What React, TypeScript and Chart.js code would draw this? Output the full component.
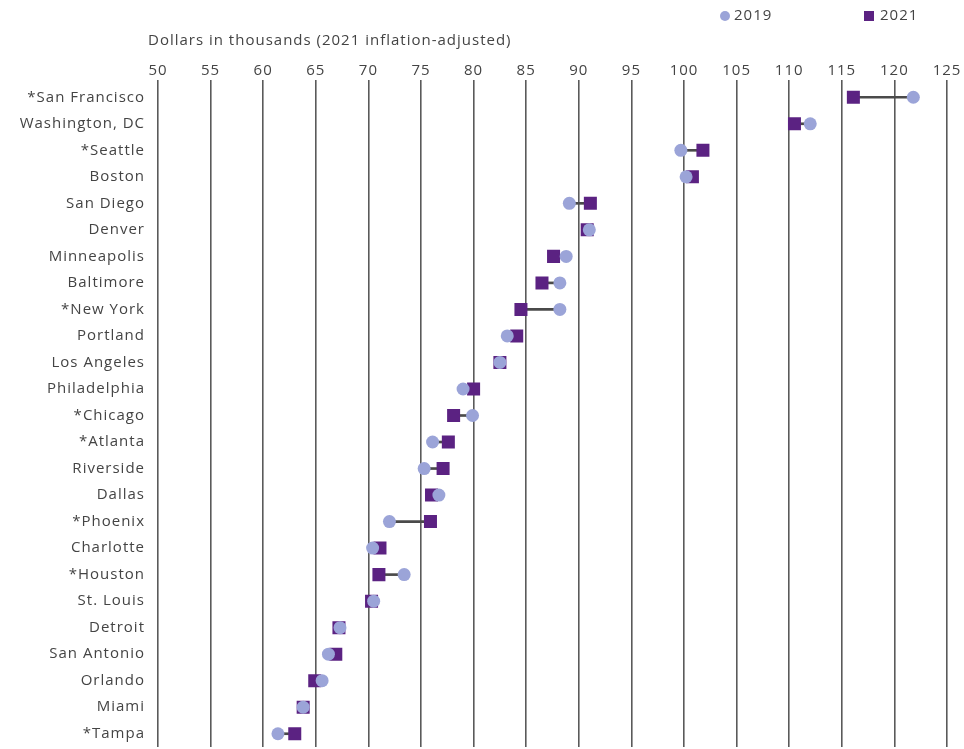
import React, { useEffect, useRef } from "react";
import { Chart, registerables } from "chart.js";

Chart.register(...registerables);

const cities = [
  "*San Francisco", "Washington, DC", "*Seattle", "Boston", "San Diego", "Denver",
  "Minneapolis", "Baltimore", "*New York", "Portland", "Los Angeles", "Philadelphia",
  "*Chicago", "*Atlanta", "Riverside", "Dallas", "*Phoenix", "Charlotte", "*Houston",
  "St. Louis", "Detroit", "San Antonio", "Orlando", "Miami", "*Tampa",
];

const values2019 = [
  121.8, 112.0, 99.7, 100.2, 89.1, 91.0, 88.8, 88.2, 88.2, 83.2, 82.5, 79.0,
  79.9, 76.1, 75.3, 76.7, 72.0, 70.4, 73.4, 70.5, 67.3, 66.2, 65.6, 63.8, 61.4,
];

const values2021 = [
  116.1, 110.5, 101.8, 100.8, 91.1, 90.8, 87.6, 86.5, 84.5, 84.1, 82.5, 80.0,
  78.1, 77.6, 77.1, 76.0, 75.9, 71.1, 71.0, 70.3, 67.2, 66.9, 64.9, 63.8, 63.0,
];

const xTicksMin = 50;
const xTicksMax = 125;
const xTickStep = 5;

const axisTitle = "Dollars in thousands (2021 inflation-adjusted)";
const seriesNames = ["2019", "2021"];

const COLOR_2019 = "#9ba4d8";
const COLOR_2021 = "#5b2282";
const TEXT = "#444444";
const FONT = "'Open Sans', 'Noto Sans', sans-serif";
const FONT_SIZE = 15;
const SPACING = "1px";

const spacingPlugin = {
  id: "letterSpacing",
  beforeUpdate(chart: any) {
    chart.ctx.letterSpacing = SPACING;
  },
  beforeDraw(chart: any) {
    chart.ctx.letterSpacing = SPACING;
  },
};

const overlayPlugin = {
  id: "overlayText",
  afterDraw(chart: any) {
    const ctx = chart.ctx;
    const area = chart.chartArea;
    ctx.save();
    ctx.letterSpacing = SPACING;
    ctx.fillStyle = TEXT;
    ctx.font = `${FONT_SIZE}px ${FONT}`;
    ctx.textBaseline = "middle";
    ctx.textAlign = "left";
    // axis title
    ctx.fillText(axisTitle, area.left - 10, 41);
    // legend
    const ly = 16;
    ctx.fillStyle = COLOR_2019;
    ctx.beginPath();
    ctx.arc(725, ly, 5, 0, Math.PI * 2);
    ctx.fill();
    ctx.fillStyle = TEXT;
    ctx.fillText(seriesNames[0], 734, ly);
    ctx.fillStyle = COLOR_2021;
    ctx.fillRect(864, ly - 5, 10, 10);
    ctx.fillStyle = TEXT;
    ctx.fillText(seriesNames[1], 880, ly);
    ctx.restore();
  },
};

export default function App() {
  const ref = useRef<HTMLCanvasElement>(null);

  useEffect(() => {
    document.body.style.margin = "0";
    const canvas = ref.current!;
    const chart = new Chart(canvas, {
      type: "bar",
      data: {
        labels: cities,
        datasets: [
          {
            type: "line",
            label: seriesNames[0],
            data: values2019,
            showLine: false,
            pointStyle: "circle",
            pointRadius: 6.5,
            pointBackgroundColor: COLOR_2019,
            pointBorderWidth: 0,
            order: 0,
          } as any,
          {
            type: "line",
            label: seriesNames[1],
            data: values2021,
            showLine: false,
            pointStyle: "rect",
            pointRadius: 9.2,
            pointBackgroundColor: COLOR_2021,
            pointBorderWidth: 0,
            order: 1,
          } as any,
          {
            type: "bar",
            label: "change",
            data: cities.map((_, i) => [values2019[i], values2021[i]]),
            backgroundColor: "#4a4a4a",
            barThickness: 2,
            order: 2,
          } as any,
        ],
      },
      options: {
        indexAxis: "y",
        animation: false,
        responsive: false,
        maintainAspectRatio: false,
        layout: { autoPadding: false, padding: { left: 0, right: 17, top: 0, bottom: 2 } },
        plugins: {
          legend: { display: false },
          tooltip: { enabled: false },
          title: { display: false },
        },
        scales: {
          x: {
            type: "linear",
            position: "top",
            min: xTicksMin,
            max: xTicksMax,
            ticks: {
              stepSize: xTickStep,
              color: TEXT,
              font: { family: FONT, size: FONT_SIZE },
              padding: 0,
            },
            grid: {
              color: "#5a5a5a",
              lineWidth: 1.6,
              tickLength: 4,
              drawTicks: true,
            },
            border: { display: false },
            afterFit: (scale: any) => {
              scale.height = 84;
              scale.paddingLeft = 0;
              scale.paddingRight = 0;
            },
          },
          y: {
            type: "category",
            offset: true,
            ticks: {
              color: TEXT,
              font: { family: FONT, size: FONT_SIZE },
              padding: 13,
            },
            grid: { display: false, drawTicks: false },
            border: { display: false },
            afterFit: (scale: any) => {
              scale.width = 158;
              scale.paddingTop = 0;
              scale.paddingBottom = 0;
            },
          },
        },
      },
      plugins: [spacingPlugin, overlayPlugin],
    });
    return () => chart.destroy();
  }, []);

  return <canvas ref={ref} width={964} height={749} style={{ display: "block" }} />;
}
